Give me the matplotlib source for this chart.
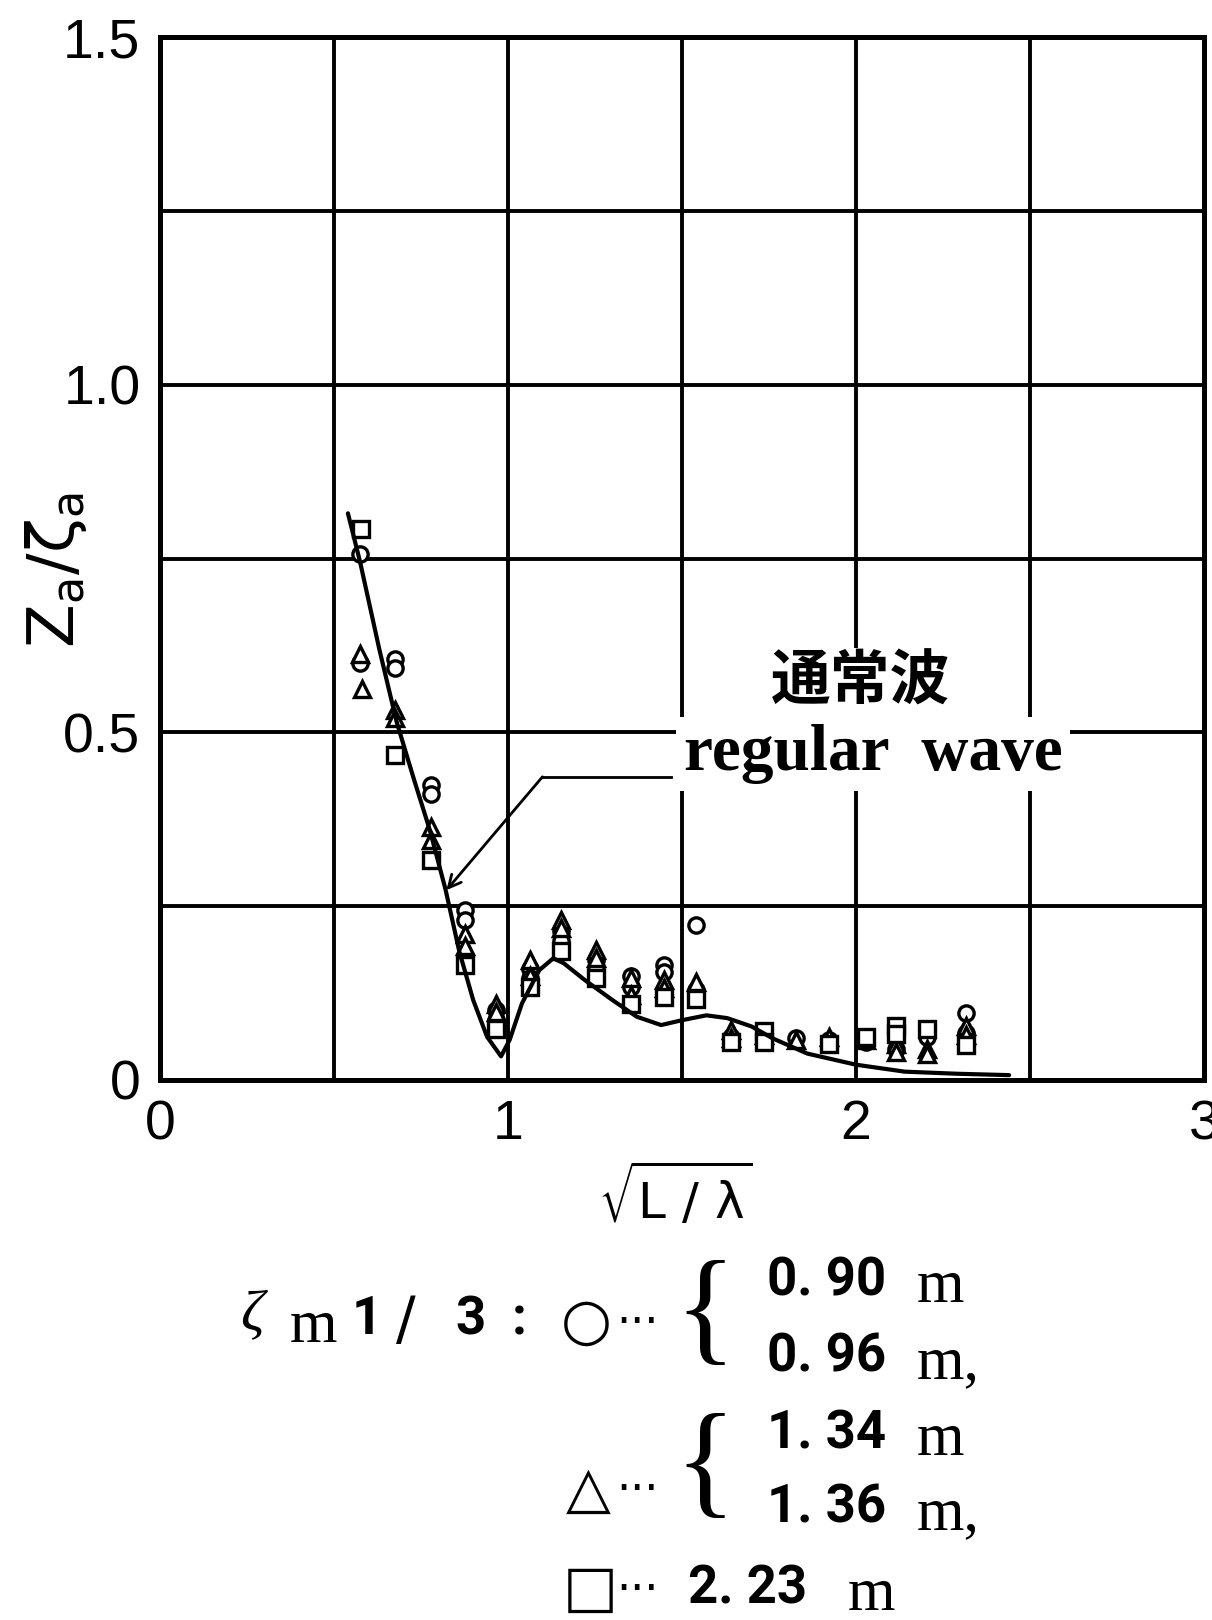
import matplotlib
matplotlib.use("Agg")
import matplotlib.pyplot as plt
import numpy as np

# ---- regular wave response curve ----
curve_x = [0.54, 0.575, 0.63, 0.68, 0.73, 0.775, 0.82, 0.86, 0.90, 0.94, 0.98, 1.005,
           1.04, 1.09, 1.13, 1.16, 1.22, 1.30, 1.37, 1.44, 1.50, 1.57, 1.63, 1.70,
           1.76, 1.86, 2.00, 2.14, 2.29, 2.44]
curve_y = [0.815, 0.745, 0.620, 0.515, 0.432, 0.360, 0.275, 0.185, 0.115, 0.062, 0.034, 0.058,
           0.110, 0.158, 0.175, 0.168, 0.144, 0.115, 0.091, 0.079, 0.086, 0.093, 0.089, 0.077,
           0.060, 0.038, 0.022, 0.012, 0.009, 0.007]

# ---- irregular wave measurements ----
# circles: zeta_m1/3 = 0.90 m / 0.96 m
circ_x = [0.574, 0.576, 0.674, 0.674, 0.780, 0.780, 0.875, 0.875, 0.966, 0.966,
          1.062, 1.062, 1.153, 1.153, 1.253, 1.253, 1.353, 1.353, 1.449, 1.449,
          1.540, 1.540, 1.640, 1.736, 1.827, 1.923, 2.028, 2.114, 2.205, 2.315, 2.315]
circ_y = [0.757, 0.600, 0.606, 0.592, 0.424, 0.412, 0.245, 0.230, 0.100, 0.087,
          0.160, 0.146, 0.215, 0.200, 0.172, 0.160, 0.149, 0.134, 0.165, 0.156,
          0.223, 0.130, 0.062, 0.060, 0.060, 0.058, 0.055, 0.045, 0.062, 0.096, 0.068]
# triangles: 1.34 m / 1.36 m
tri_x = [0.576, 0.581, 0.674, 0.674, 0.780, 0.780, 0.875, 0.875, 0.966, 0.966,
         1.062, 1.062, 1.153, 1.153, 1.253, 1.253, 1.353, 1.353, 1.449, 1.449,
         1.540, 1.640, 1.640, 1.736, 1.827, 1.923, 2.028, 2.114, 2.114, 2.205, 2.205,
         2.315, 2.315]
tri_y = [0.612, 0.563, 0.532, 0.520, 0.364, 0.345, 0.210, 0.193, 0.110, 0.098,
         0.173, 0.150, 0.230, 0.218, 0.187, 0.175, 0.146, 0.122, 0.144, 0.132,
         0.141, 0.072, 0.060, 0.065, 0.058, 0.062, 0.058, 0.052, 0.040, 0.045, 0.038,
         0.077, 0.065]
# squares: 2.23 m
sq_x = [0.579, 0.674, 0.780, 0.875, 0.966, 1.062, 1.153, 1.253, 1.353, 1.449,
        1.540, 1.640, 1.736, 1.736, 1.923, 2.028, 2.114, 2.114, 2.205, 2.315]
sq_y = [0.793, 0.467, 0.316, 0.165, 0.074, 0.134, 0.185, 0.146, 0.110, 0.120,
        0.117, 0.055, 0.071, 0.055, 0.052, 0.062, 0.078, 0.066, 0.074, 0.050]

x_ticks = [0, 0.5, 1, 1.5, 2, 2.5, 3]
x_tick_labels = ["0", "", "1", "", "2", "", "3"]
y_ticks = [0, 0.25, 0.5, 0.75, 1.0, 1.25, 1.5]
y_tick_labels = ["0", "", "0.5", "", "1.0", "", "1.5"]

# leader line from the curve label to the curve
leader_start = (1.469, 0.436)
leader_corner = (1.099, 0.436)
leader_tip = (0.823, 0.273)

W, H = 1212, 1620
plt.rcParams["mathtext.fontset"] = "dejavusans"
fig = plt.figure(figsize=(W / 100, H / 100), dpi=100)
fig.patch.set_facecolor("white")


def fp(x, y):
    """pixel position (from top-left) -> figure fraction"""
    return x / W, 1 - y / H


ax = fig.add_axes([160 / W, 1 - 1080 / H, (1204 - 160) / W, (1080 - 37) / H])
ax.set_xlim(0, 3)
ax.set_ylim(0, 1.5)
ax.set_xticks(x_ticks)
ax.set_xticklabels(x_tick_labels)
ax.set_yticks(y_ticks)
ax.set_yticklabels(y_tick_labels)
ax.grid(True, color="black", lw=2.8, zorder=1)
ax.set_axisbelow(True)
for sp in ax.spines.values():
    sp.set_linewidth(3.6)
ax.tick_params(axis="both", length=0, labelsize=40)
ax.tick_params(axis="x", pad=14)
ax.tick_params(axis="y", pad=14)
for lab in ax.get_xticklabels() + ax.get_yticklabels():
    lab.set_fontfamily("Liberation Sans")

mk = dict(ls="none", ms=11, mfc="white", mec="black", mew=2.4, zorder=3)
ax.plot(circ_x, circ_y, marker="o", **mk)
ax.plot(tri_x, tri_y, marker="^", **mk)
ax.plot(sq_x, sq_y, marker="s", **mk)

ax.plot(curve_x, curve_y, color="black", lw=3, zorder=4,
        solid_joinstyle="round", solid_capstyle="round")

# curve label with leader arrow
ax.plot([leader_start[0], leader_corner[0]], [leader_start[1], leader_corner[1]],
        color="black", lw=2, zorder=4)
ax.annotate("", xy=leader_tip, xytext=leader_corner,
            arrowprops=dict(arrowstyle="->,head_length=0.9,head_width=0.45",
                            color="black", lw=2, shrinkA=0, shrinkB=0), zorder=4)

fig.text(*fp(861, 683), "通常波", fontsize=43, family=["Noto Sans CJK JP"],
         fontweight="bold", ha="center", va="center", zorder=5,
         bbox=dict(facecolor="white", edgecolor="none", pad=4))
fig.text(*fp(873, 770), "regular  wave", fontsize=47, family="Liberation Serif",
         fontweight="bold", ha="center", va="baseline", zorder=5,
         bbox=dict(facecolor="white", edgecolor="none", pad=5))

# axis titles
fig.text(*fp(56, 570), r"$\mathregular{Z_a/\zeta_a}$", fontsize=46,
         rotation=90, ha="center", va="center")
fig.text(*fp(675, 1195), r"$\mathregular{\sqrt{L\ /\ \lambda}}$", fontsize=36,
         ha="center", va="center")

# legend of significant wave heights
bold = dict(family="Roboto", fontweight="bold", fontsize=38, va="center")
serif = dict(family="Liberation Serif", fontsize=44, va="center")
sym = dict(family="DejaVu Sans", fontsize=42, va="center", ha="center")
dots = dict(family="DejaVu Sans", fontsize=32, va="baseline", ha="left")
brace = dict(family="Liberation Serif", fontsize=92, va="center", ha="left")

fig.text(*fp(240, 1315), "ζ", family="Liberation Serif", style="italic",
         fontsize=42, va="center", ha="left")
fig.text(*fp(290, 1327), "m", ha="left", **serif)
fig.text(*fp(352, 1320), "1", ha="left", **bold)
fig.text(*fp(396, 1322), "/", family="DejaVu Sans", fontsize=42, va="center", ha="left")
fig.text(*fp(455, 1320), "3", ha="left", **bold)
fig.text(*fp(512, 1320), ":", ha="left", **bold)
fig.text(*fp(586, 1322), "○", **sym)
fig.text(*fp(616, 1336), "···", **dots)
fig.text(*fp(674, 1317), "{", **brace)
fig.text(*fp(767, 1281), "0. 90", ha="left", **bold)
fig.text(*fp(917, 1287), "m", ha="left", **serif)
fig.text(*fp(767, 1357), "0. 96", ha="left", **bold)
fig.text(*fp(917, 1363), "m,", ha="left", **serif)

fig.text(*fp(588, 1490), "△", **sym)
fig.text(*fp(616, 1503), "···", **dots)
fig.text(*fp(674, 1470), "{", **brace)
fig.text(*fp(767, 1434), "1. 34", ha="left", **bold)
fig.text(*fp(917, 1440), "m", ha="left", **serif)
fig.text(*fp(767, 1508), "1. 36", ha="left", **bold)
fig.text(*fp(917, 1514), "m,", ha="left", **serif)

fig.text(*fp(590, 1589), "□", **sym)
fig.text(*fp(616, 1603), "···", **dots)
fig.text(*fp(688, 1589), "2. 23", ha="left", **bold)
fig.text(*fp(848, 1595), "m", ha="left", **serif)

fig.savefig("out.png", dpi=100, facecolor="white")
